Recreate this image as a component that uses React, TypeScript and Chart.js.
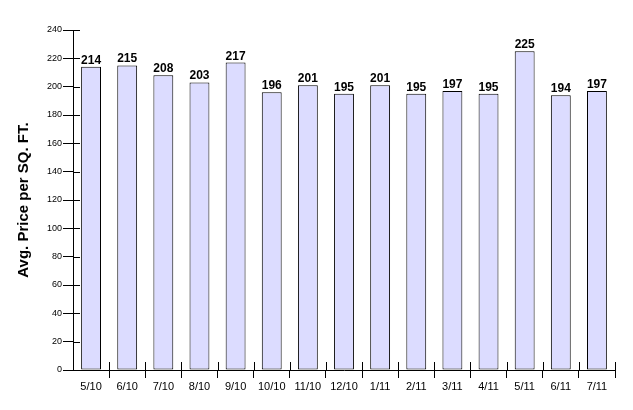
import React, { useEffect, useRef } from "react";
import { Chart, registerables } from "chart.js";

Chart.register(...registerables);

const categories = ["5/10", "6/10", "7/10", "8/10", "9/10", "10/10", "11/10", "12/10", "1/11", "2/11", "3/11", "4/11", "5/11", "6/11", "7/11"];
const prices = [214, 215, 208, 203, 217, 196, 201, 195, 201, 195, 197, 195, 225, 194, 197];
const yTitle = "Avg. Price per SQ. FT.";
const yMax = 240;
const yStep = 20;

const innerTicks = {
  id: "innerTicks",
  afterDraw(chart: any) {
    const ctx = chart.ctx;
    const xs = chart.scales.x;
    const ys = chart.scales.y;
    ctx.save();
    ctx.strokeStyle = "#000";
    ctx.lineWidth = 1;
    ctx.beginPath();
    ys.ticks.forEach((t: any) => {
      const y = Math.round(ys.getPixelForValue(t.value)) + 0.5;
      ctx.moveTo(ys.right, y);
      ctx.lineTo(ys.right + 7, y);
    });
    const n = categories.length;
    for (let i = 0; i < n; i++) {
      const x = i < n - 1 ? (xs.getPixelForValue(i) + xs.getPixelForValue(i + 1)) / 2 : xs.right;
      const px = Math.round(x) + 0.5;
      ctx.moveTo(px, xs.top);
      ctx.lineTo(px, xs.top - 8);
    }
    ctx.stroke();
    ctx.restore();
  },
};

const valueLabels = {
  id: "valueLabels",
  afterDatasetsDraw(chart: any) {
    const ctx = chart.ctx;
    const meta = chart.getDatasetMeta(0);
    ctx.save();
    ctx.fillStyle = "#000";
    ctx.font = "bold 12px Arial, 'Liberation Sans', sans-serif";
    ctx.textAlign = "center";
    ctx.textBaseline = "alphabetic";
    meta.data.forEach((bar: any, i: number) => {
      ctx.fillText(String(prices[i]), bar.x, bar.y - 3);
    });
    ctx.restore();
  },
};

export default function App() {
  const ref = useRef<HTMLCanvasElement>(null);
  useEffect(() => {
    if (!ref.current) return;
    const chart = new Chart(ref.current, {
      type: "bar",
      data: {
        labels: categories,
        datasets: [
          {
            data: prices,
            backgroundColor: "#DCDCFF",
            borderColor: "#000",
            borderWidth: 1,
            borderSkipped: false,
            barPercentage: 0.55,
            categoryPercentage: 1,
          },
        ],
      },
      options: {
        responsive: false,
        animation: false,
        devicePixelRatio: 1,
        layout: { padding: { top: 30, right: 18, left: 0, bottom: 0 } },
        plugins: { legend: { display: false }, tooltip: { enabled: false } },
        scales: {
          x: {
            afterFit: (s: any) => { s.height = 40; },
            grid: {
              display: true,
              drawOnChartArea: false,
              drawTicks: true,
              tickLength: 8,
              offset: true,
              color: (c: any) => (c.index === 0 ? "rgba(0,0,0,0)" : "#000"),
            },
            border: { display: true, color: "#000", width: 1 },
            ticks: {
              color: "#000",
              font: { family: "Arial, 'Liberation Sans', sans-serif", size: 11 },
              padding: 2,
              maxRotation: 0,
              autoSkip: false,
            },
          },
          y: {
            min: 0,
            max: yMax,
            afterFit: (s: any) => { s.width = 73; },
            grid: {
              display: true,
              drawOnChartArea: false,
              drawTicks: true,
              tickLength: 10,
              color: "#000",
            },
            border: { display: true, color: "#000", width: 1 },
            ticks: {
              stepSize: yStep,
              color: "#000",
              font: { family: "Arial, 'Liberation Sans', sans-serif", size: 9 },
              padding: 1,
            },
            title: {
              display: true,
              text: yTitle,
              color: "#000",
              font: { family: "Arial, 'Liberation Sans', sans-serif", size: 15, weight: "bold" },
              padding: { top: 15, bottom: 0 },
            },
          },
        },
      },
      plugins: [innerTicks, valueLabels],
    });
    return () => chart.destroy();
  }, []);
  return (
    <div style={{ position: "absolute", left: 0, top: 0, width: 633, height: 410, background: "#fff" }}>
      <canvas ref={ref} width={633} height={410} />
    </div>
  );
}
